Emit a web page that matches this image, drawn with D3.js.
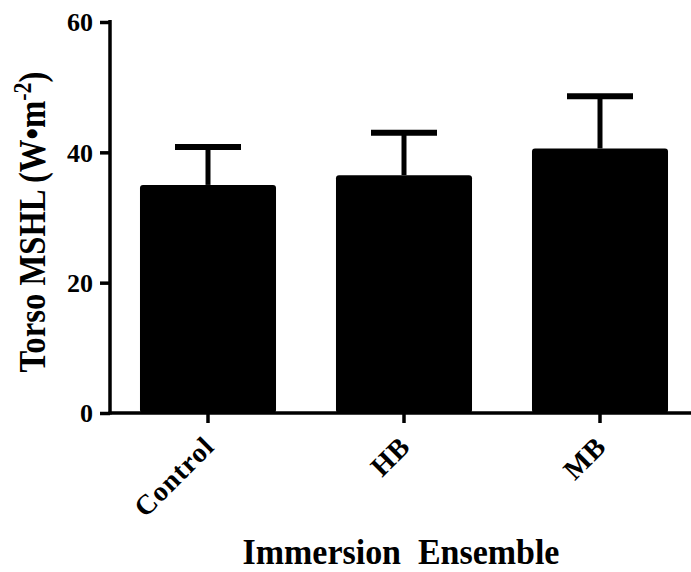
<!DOCTYPE html>
<html>
<head>
<meta charset="utf-8">
<script src="https://cdn.jsdelivr.net/npm/d3@7"></script>
<style>
  body { margin: 0; background: #fff; }
  svg { display: block; }
  text { font-family: "Liberation Serif", "Times New Roman", serif; font-weight: bold; }
</style>
</head>
<body>
<svg id="chart" width="691" height="572"></svg>
<script>
// data
const groups = ['Control', 'HB', 'MB'];
const means = [35.0, 36.5, 40.6];
const upper = [40.8, 43.0, 48.6];   // mean + SD
const yTicks = [0, 20, 40, 60];

const W = 691, H = 572;
const margin = { top: 22, left: 110, bottom: 159 };
const y0 = H - margin.bottom; // 413

const svg = d3.select('#chart');

const x = d3.scaleBand()
  .domain(groups)
  .range([margin.left, 698])
  .paddingInner(0.306)
  .paddingOuter(0.153);

const y = d3.scaleLinear()
  .domain([0, 60])
  .range([y0, margin.top]);

// bars
svg.selectAll('rect.bar')
  .data(groups)
  .enter()
  .append('rect')
  .attr('class', 'bar')
  .attr('x', d => x(d))
  .attr('y', (d, i) => y(means[i]))
  .attr('width', x.bandwidth())
  .attr('height', (d, i) => y0 - y(means[i]))
  .attr('rx', 3)
  .attr('fill', '#000');

// error bars (upper only)
const capHalf = 33;
const err = svg.append('g').attr('stroke', '#000');
groups.forEach((g, i) => {
  const cx = x(g) + x.bandwidth() / 2;
  err.append('line')
    .attr('x1', cx).attr('x2', cx)
    .attr('y1', y(means[i])).attr('y2', y(upper[i]))
    .attr('stroke-width', 5);
  err.append('line')
    .attr('x1', cx - capHalf).attr('x2', cx + capHalf)
    .attr('y1', y(upper[i])).attr('y2', y(upper[i]))
    .attr('stroke-width', 6);
});

// y axis
const yAxis = d3.axisLeft(y).tickValues(yTicks).tickSize(10).tickPadding(7);
const yg = svg.append('g')
  .attr('transform', `translate(${margin.left},0)`)
  .call(yAxis);
yg.select('.domain').attr('stroke-width', 3.5).attr('d', `M0,${margin.top - 2}V${y0 + 1.5}`);
yg.selectAll('.tick line').attr('stroke-width', 3.5);
yg.selectAll('.tick text')
  .attr('font-size', 26)
  .attr('font-family', '"Liberation Serif", serif')
  .attr('font-weight', 'bold')
  .attr('fill', '#000')
  .attr('dy', '0.34em');

// x axis
const xAxis = d3.axisBottom(x).tickSize(10).tickSizeOuter(0);
const xg = svg.append('g')
  .attr('transform', `translate(0,${y0})`)
  .call(xAxis);
xg.select('.domain').attr('stroke-width', 3.5).attr('d', `M${margin.left - 1.5},0H${W}`);
xg.selectAll('.tick line').attr('stroke-width', 3.5);
xg.selectAll('.tick text')
  .attr('font-size', 28)
  .attr('letter-spacing', 1)
  .attr('font-family', '"Liberation Serif", serif')
  .attr('font-weight', 'bold')
  .attr('fill', '#000')
  .attr('text-anchor', 'end')
  .attr('x', 0).attr('y', 0)
  .attr('dy', null)
  .attr('transform', 'translate(8,35) rotate(-45)');

// axis titles, squeezed along the text direction to the reference width
const xt = svg.append('text')
  .attr('text-anchor', 'middle')
  .attr('font-size', 35)
  .style('white-space', 'pre')
  .text('Immersion  Ensemble');
const xtw = xt.node().getBBox().width;
xt.attr('transform', `translate(401,564) scale(${317 / xtw},1)`);

const yt = svg.append('text')
  .attr('text-anchor', 'middle')
  .attr('font-size', 37);
yt.append('tspan').text('Torso MSHL (W\u2022m');
yt.append('tspan').attr('dy', -14).attr('font-size', 25).text('-2');
yt.append('tspan').attr('dy', 14).text(')');
const ytw = yt.node().getBBox().width;
yt.attr('transform', `translate(45,222) rotate(-90) scale(${301 / ytw},1)`);
</script>
</body>
</html>
